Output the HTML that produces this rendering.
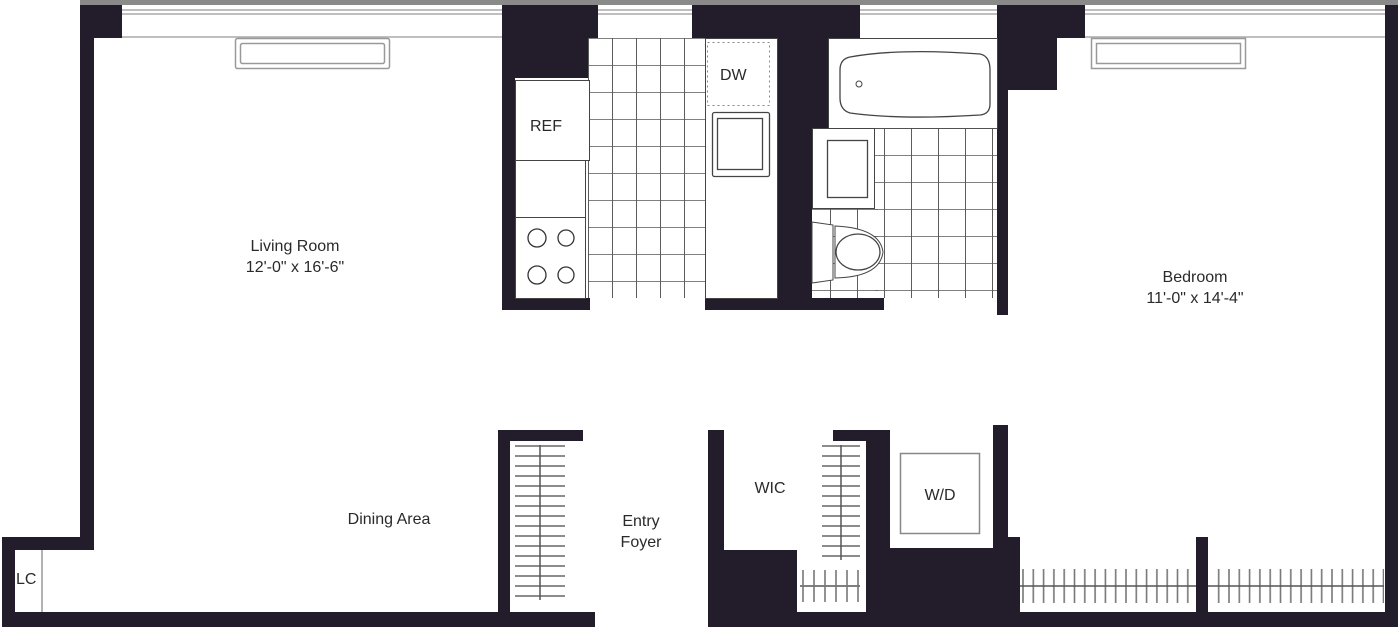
<!DOCTYPE html>
<html><head><meta charset="utf-8"><style>
html,body{margin:0;padding:0;background:#fff;}
svg{display:block}
text{font-family:"Liberation Sans",Arial,sans-serif;fill:#2a2a2a;font-size:16px}
</style></head><body>
<svg width="1400" height="628" viewBox="0 0 1400 628" xmlns="http://www.w3.org/2000/svg">
<defs>
<pattern id="tk" x="588" y="38" width="24" height="27" patternUnits="userSpaceOnUse">
<line x1="0" y1="0" x2="0" y2="27" stroke="#333" stroke-width="1.6"/>
<line x1="0" y1="0" x2="24" y2="0" stroke="#555" stroke-width="1.6"/>
</pattern>
<pattern id="tb" x="884" y="128" width="27" height="27" patternUnits="userSpaceOnUse">
<line x1="0" y1="0" x2="0" y2="27" stroke="#333" stroke-width="1.6"/>
<line x1="0" y1="0" x2="27" y2="0" stroke="#555" stroke-width="1.6"/>
</pattern>
<pattern id="vt" x="0" y="445" width="10" height="10" patternUnits="userSpaceOnUse">
<line x1="0" y1="1" x2="60" y2="1" stroke="#666" stroke-width="1.6"/>
</pattern>
<pattern id="ht" x="1022" y="0" width="10.3" height="10" patternUnits="userSpaceOnUse">
<line x1="1" y1="0" x2="1" y2="10" stroke="#777" stroke-width="1.6"/>
</pattern>
</defs>
<rect x="80" y="0" width="1318" height="5" fill="#8a8a8a"/>
<g stroke="#999" stroke-width="1.2">
<line x1="122" y1="10" x2="502" y2="10"/><line x1="122" y1="14" x2="502" y2="14"/><line x1="122" y1="37" x2="502" y2="37"/>
<line x1="598" y1="10" x2="692" y2="10"/><line x1="598" y1="14" x2="692" y2="14"/>
<line x1="860" y1="10" x2="997" y2="10"/><line x1="860" y1="14" x2="997" y2="14"/>
<line x1="1085" y1="10" x2="1385" y2="10"/><line x1="1085" y1="14" x2="1385" y2="14"/><line x1="1085" y1="37" x2="1385" y2="37"/>
</g>
<g fill="#231c2a">
<rect x="80" y="5" width="42" height="33"/>
<rect x="80" y="5" width="14" height="545"/>
<rect x="2" y="537" width="92" height="13"/>
<rect x="2" y="537" width="13" height="90"/>
<rect x="2" y="612" width="593" height="15"/>
<rect x="502" y="5" width="96" height="33"/>
<rect x="502" y="38" width="86" height="40"/>
<rect x="502" y="38" width="13" height="272"/>
<rect x="502" y="298" width="88" height="12"/>
<rect x="692" y="5" width="168" height="33"/>
<rect x="778" y="38" width="50" height="90"/>
<rect x="778" y="128" width="34" height="182"/>
<rect x="705" y="298" width="179" height="12"/>
<rect x="997" y="5" width="88" height="33"/>
<rect x="1008" y="38" width="49" height="52"/>
<rect x="997" y="38" width="11" height="277"/>
<rect x="1385" y="5" width="13" height="622"/>
<rect x="498" y="430" width="12" height="185"/>
<rect x="498" y="430" width="85" height="11"/>
<rect x="708" y="430" width="16" height="197"/>
<rect x="708" y="612" width="690" height="15"/>
<rect x="708" y="550" width="89" height="65"/>
<rect x="833" y="430" width="57" height="11"/>
<rect x="866" y="430" width="24" height="185"/>
<rect x="866" y="548" width="154" height="66"/>
<rect x="993" y="425" width="15" height="125"/>
<rect x="1008" y="537" width="12" height="78"/>
<rect x="1196" y="537" width="12" height="78"/>
</g>
<rect x="235.5" y="38.5" width="154" height="30" rx="2" fill="none" stroke="#999" stroke-width="1.5"/>
<rect x="240.5" y="43.5" width="144" height="20" rx="2" fill="none" stroke="#999" stroke-width="1.5"/>
<rect x="1091.5" y="38.5" width="154" height="30" fill="none" stroke="#999" stroke-width="1.5"/>
<rect x="1096.5" y="43.5" width="144" height="20" fill="none" stroke="#999" stroke-width="1.5"/>
<line x1="42" y1="550" x2="42" y2="612" stroke="#999" stroke-width="1.5"/>
<text x="16" y="584" font-size="14">LC</text>
<rect x="588" y="38" width="117" height="260" fill="url(#tk)"/>
<rect x="515.5" y="80.5" width="74" height="80" fill="#fff" stroke="#444"/>
<rect x="515.5" y="160.5" width="70" height="57" fill="#fff" stroke="#444"/>
<rect x="515.5" y="217.5" width="70" height="81" fill="#fff" stroke="#444"/>
<g fill="none" stroke="#333" stroke-width="1.3">
<circle cx="537" cy="238" r="9"/><circle cx="566" cy="238" r="8"/>
<circle cx="537" cy="275" r="9"/><circle cx="566" cy="275" r="8"/>
</g>
<text x="530" y="131">REF</text>
<rect x="705.5" y="38.5" width="72" height="260" fill="#fff" stroke="#444"/>
<rect x="707.5" y="42.5" width="62" height="63" fill="none" stroke="#888" stroke-dasharray="2,3"/>
<text x="720" y="80">DW</text>
<rect x="712.5" y="112.5" width="57" height="64" rx="2" fill="none" stroke="#444" stroke-width="1.3"/>
<rect x="717.5" y="118.5" width="45" height="51" fill="none" stroke="#444" stroke-width="1.3"/>
<rect x="828.5" y="38.5" width="169" height="90" fill="#fff" stroke="#444"/>
<path d="M850 57 Q900 48 980 54 Q990 56 990 70 L990 104 Q990 114 980 115 Q900 120 850 113 Q840 110 840 98 L840 70 Q840 59 850 57Z" fill="none" stroke="#444" stroke-width="1.3"/>
<circle cx="859" cy="84" r="3" fill="none" stroke="#444"/>
<rect x="875" y="128" width="122" height="170" fill="url(#tb)"/>
<rect x="812" y="208" width="66" height="90" fill="url(#tb)"/>
<rect x="812.5" y="128.5" width="62" height="80" fill="#fff" stroke="#444"/>
<rect x="827.5" y="140.5" width="40" height="57" fill="none" stroke="#444" stroke-width="1.3"/>
<path d="M812 222 L833 225 L833 280 L812 283Z" fill="#fff" stroke="#444"/>
<path d="M835 226 Q880 228 883 252 Q880 277 835 278Z" fill="#fff" stroke="#444"/>
<ellipse cx="858" cy="252" rx="22" ry="18" fill="none" stroke="#444" stroke-width="1.3"/>
<rect x="515" y="445" width="50" height="160" fill="url(#vt)"/>
<line x1="540" y1="445" x2="540" y2="600" stroke="#555" stroke-width="1.5"/>
<rect x="822" y="445" width="38" height="115" fill="url(#vt)"/>
<line x1="841" y1="445" x2="841" y2="560" stroke="#555" stroke-width="1.5"/>
<line x1="800" y1="586" x2="860" y2="586" stroke="#555" stroke-width="1.5"/>
<g stroke="#777" stroke-width="1.6"><line x1="803" y1="570" x2="803" y2="602"/><line x1="814" y1="570" x2="814" y2="602"/><line x1="825" y1="570" x2="825" y2="602"/><line x1="836" y1="570" x2="836" y2="602"/><line x1="847" y1="570" x2="847" y2="602"/><line x1="858" y1="570" x2="858" y2="602"/></g>
<rect x="900.5" y="453.5" width="79" height="80" fill="none" stroke="#888" stroke-width="1.5"/>
<rect x="1022" y="569" width="174" height="34" fill="url(#ht)"/>
<rect x="1210" y="569" width="174" height="34" fill="url(#ht)"/>
<line x1="1020" y1="586" x2="1196" y2="586" stroke="#555" stroke-width="1.5"/>
<line x1="1208" y1="586" x2="1384" y2="586" stroke="#555" stroke-width="1.5"/>
<text x="295" y="251" text-anchor="middle">Living Room</text>
<text x="295" y="272" text-anchor="middle">12'-0" x 16'-6"</text>
<text x="1195" y="282" text-anchor="middle">Bedroom</text>
<text x="1195" y="303" text-anchor="middle">11'-0" x 14'-4"</text>
<text x="389" y="524" text-anchor="middle">Dining Area</text>
<text x="641" y="526" text-anchor="middle">Entry</text>
<text x="641" y="547" text-anchor="middle">Foyer</text>
<text x="770" y="493" text-anchor="middle">WIC</text>
<text x="940" y="500" text-anchor="middle">W/D</text>
</svg>
</body></html>
